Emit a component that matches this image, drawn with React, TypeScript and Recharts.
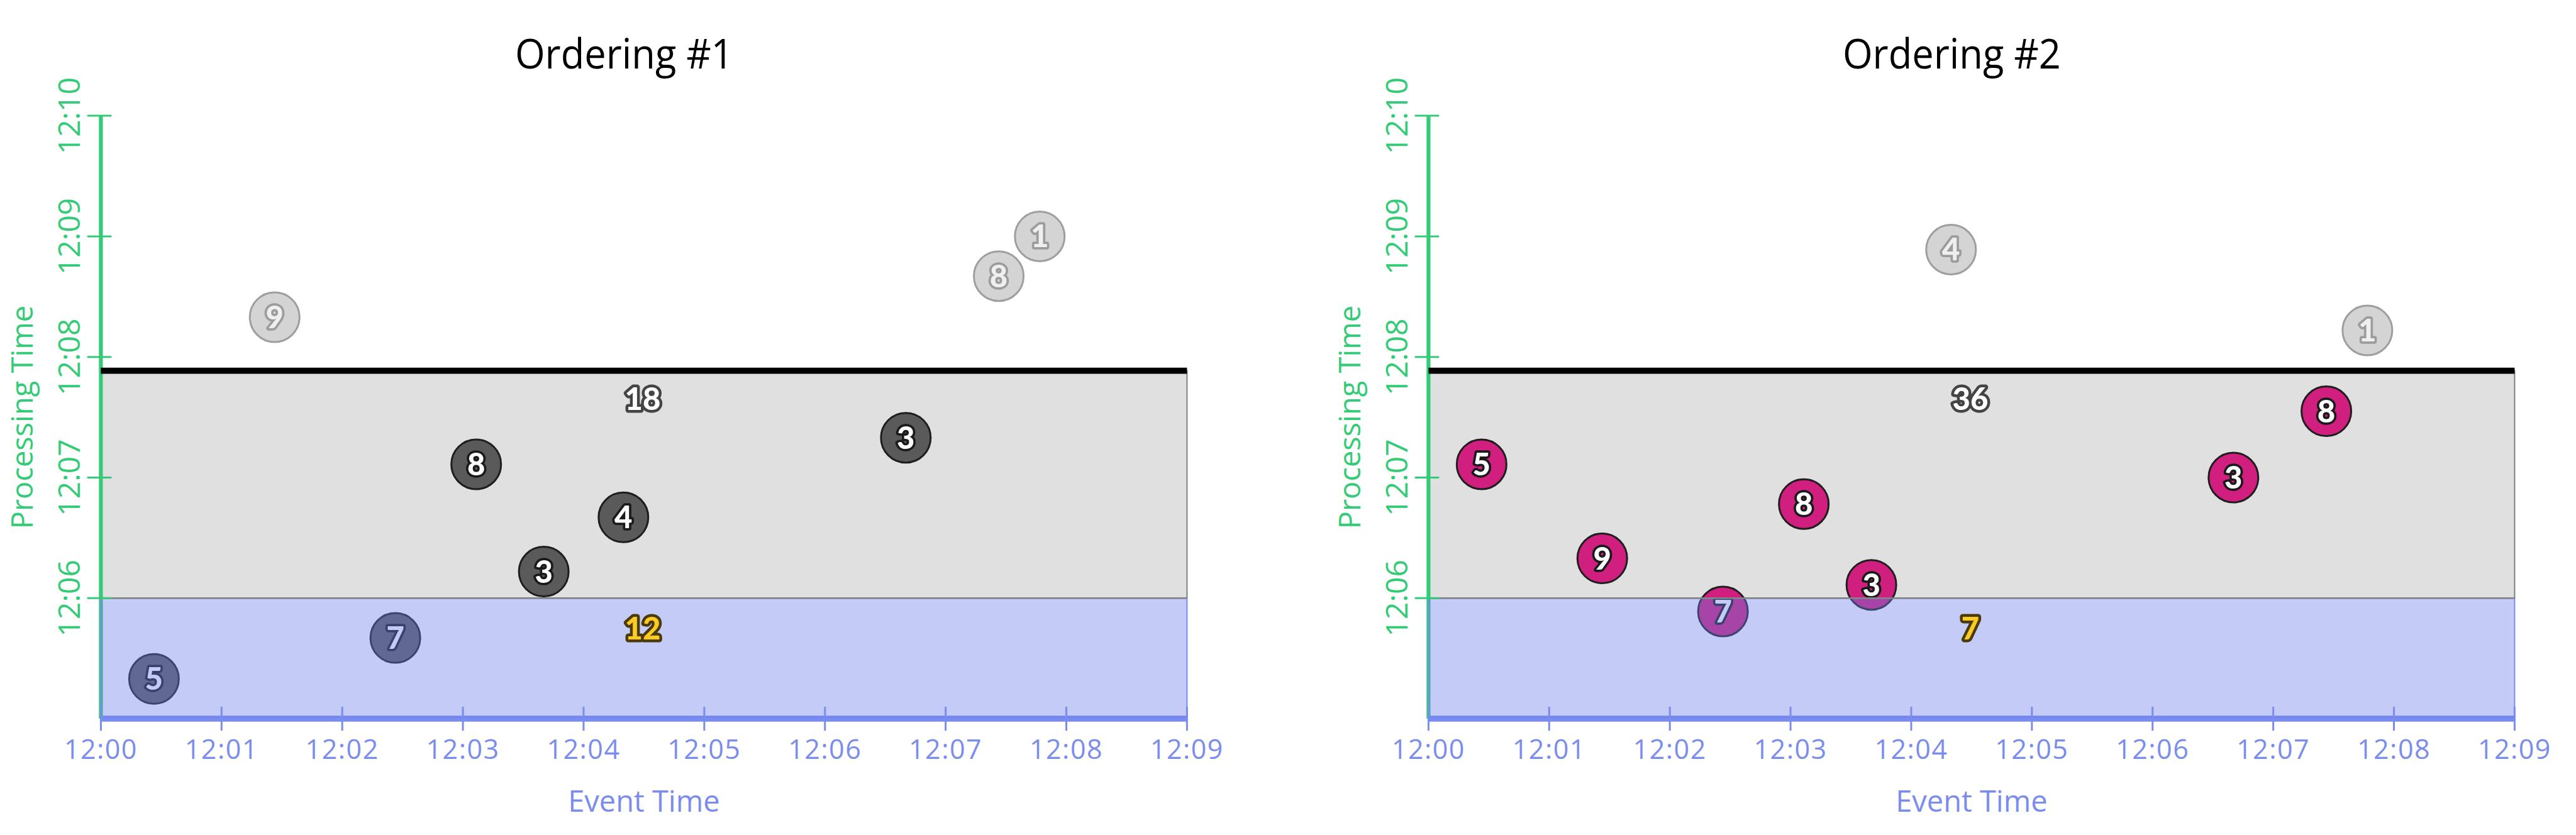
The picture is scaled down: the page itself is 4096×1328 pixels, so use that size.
import { ReferenceArea, ReferenceLine, Scatter, ScatterChart, XAxis, YAxis } from "recharts";

// event time / processing time in minutes after 12:00
const eventTimes = [0.44, 1.44, 2.44, 3.11, 3.67, 4.33, 6.67, 7.44, 7.78];
const eventValues = [5, 9, 7, 8, 3, 4, 3, 8, 1];
const processingOrder1 = [5.33, 8.33, 5.67, 7.11, 6.22, 6.67, 7.33, 8.67, 9.0];
const processingOrder2 = [7.11, 6.33, 5.89, 6.78, 6.11, 8.89, 7.0, 7.55, 8.22];

const resultEventTimes = [4.49, 4.49];
const resultProcessing = [7.65, 5.75];
const resultsOrder1 = ["18", "12"];
const resultsOrder2 = ["36", "7"];

const xTicks = [0, 1, 2, 3, 4, 5, 6, 7, 8, 9];
const yTicks = [6, 7, 8, 9, 10];
const watermark = 7.886;
const earlyBoundary = 6;

const GREEN = "#34cb77";
const BLUE = "#7b8cef";
const FONT = "'Open Sans', 'Noto Sans', sans-serif";

const fmt = (v: number) => `12:${String(v).padStart(2, "0")}`;

const coinStyles: Record<string, { fill: string; stroke: string; text: string; outline: string }> = {
  pending: { fill: "#d4d4d4", stroke: "#9e9e9e", text: "#efefef", outline: "#9c9c9c" },
  dark: { fill: "#5a5a5a", stroke: "#1e1e1e", text: "#ffffff", outline: "#1a1a1a" },
  magenta: { fill: "#d01f7e", stroke: "#1e1e1e", text: "#ffffff", outline: "#1a1a1a" },
};

function Coin(props: any) {
  const { cx, cy, payload } = props;
  const s = coinStyles[payload.kind];
  return (
    <g>
      <circle cx={cx} cy={cy} r={39.5} fill={s.fill} stroke={s.stroke} strokeWidth={3} />
      <text
        x={cx}
        y={cy + 17.5}
        textAnchor="middle"
        fontFamily="Lato, sans-serif"
        fontWeight={900}
        fontSize={49}
        fill={s.text}
        stroke={s.outline}
        strokeWidth={7.5}
        strokeLinejoin="round"
        paintOrder="stroke"
      >
        {payload.value}
      </text>
    </g>
  );
}

function ResultLabel(props: any) {
  const { cx, cy, payload } = props;
  const early = payload.processing < earlyBoundary;
  return (
    <text
      x={cx}
      y={cy + 17.5}
      textAnchor="middle"
      fontFamily="Lato, sans-serif"
      fontWeight={900}
      fontSize={49}
      fill={early ? "#fccb22" : "#ffffff"}
      stroke={early ? "#4b3b08" : "#444444"}
      strokeWidth={9}
      strokeLinejoin="round"
      paintOrder="stroke"
    >
      {payload.text}
    </text>
  );
}

function XTick(props: any) {
  const { x, y, payload } = props;
  return (
    <g>
      <line x1={x} x2={x} y1={y - 19} y2={y + 19} stroke={BLUE} strokeWidth={3} />
      <text x={x} y={y + 63.5} textAnchor="middle" fontFamily={FONT} fontSize={43} letterSpacing={1.5} fill={BLUE}>
        {fmt(payload.value)}
      </text>
    </g>
  );
}

function YTick(props: any) {
  const { x, y, payload } = props;
  const tx = x - 33;
  return (
    <g>
      <line x1={x - 21.7} x2={x + 16.9} y1={y} y2={y} stroke={GREEN} strokeWidth={3} />
      <text x={tx} y={y} transform={`rotate(-90, ${tx}, ${y})`} textAnchor="middle" fontFamily={FONT} fontSize={48} fill={GREEN}>
        {fmt(payload.value)}
      </text>
    </g>
  );
}

const PLOT_LEFT = 160.4;
const PLOT_WIDTH = 1727;
const HEIGHT = 1328;

function Panel({ title, width, processing, doneKind, results }: {
  title: string;
  width: number;
  processing: number[];
  doneKind: string;
  results: string[];
}) {
  const coins = eventTimes.map((event, i) => ({
    event,
    processing: processing[i],
    value: eventValues[i],
    kind: processing[i] > watermark ? "pending" : doneKind,
  }));
  const labels = results.map((text, i) => ({
    event: resultEventTimes[i],
    processing: resultProcessing[i],
    text,
  }));

  return (
    <div style={{ position: "relative", width, height: HEIGHT }}>
      <ScatterChart
        width={width}
        height={HEIGHT}
        margin={{ top: 184.1, right: width - PLOT_LEFT - PLOT_WIDTH, bottom: 64.9, left: 60.4 }}
      >
        <XAxis
          type="number"
          dataKey="event"
          domain={[0, 9]}
          ticks={xTicks}
          interval={0}
          allowDataOverflow
          height={120}
          tickSize={0}
          tickMargin={0}
          tickLine={false}
          tick={(p: any) => <XTick {...p} />}
          axisLine={{ stroke: BLUE, strokeWidth: 9.5 }}
          label={{
            value: "Event Time",
            content: ({ viewBox }: any) => (
              <text x={viewBox.x + viewBox.width / 2} y={viewBox.y + 147.8} textAnchor="middle" fontFamily={FONT} fontSize={47} fill={BLUE}>
                Event Time
              </text>
            ),
          }}
        />
        <YAxis
          type="number"
          dataKey="processing"
          domain={[5, 10]}
          ticks={yTicks}
          interval={0}
          allowDataOverflow
          width={100}
          tickSize={0}
          tickMargin={0}
          tickLine={false}
          tick={(p: any) => <YTick {...p} />}
          axisLine={{ stroke: GREEN, strokeWidth: 6.2 }}
          label={{
            value: "Processing Time",
            content: ({ viewBox }: any) => {
              const lx = viewBox.x + viewBox.width - 108;
              const ly = viewBox.y + viewBox.height / 2;
              return (
                <text x={lx} y={ly} transform={`rotate(-90, ${lx}, ${ly})`} textAnchor="middle" fontFamily={FONT} fontSize={47} fill={GREEN}>
                  Processing Time
                </text>
              );
            },
          }}
        />
        <ReferenceArea x1={0} x2={9} y1={earlyBoundary} y2={watermark} fill="#e0e0e0" fillOpacity={1} stroke="#808080" strokeWidth={2} />
        <Scatter data={coins} shape={(p: any) => <Coin {...p} />} isAnimationActive={false} zIndex={600} />
        <ReferenceArea x1={0} x2={9} y1={5} y2={earlyBoundary} fill="#6a7ce8" fillOpacity={0.4} stroke={BLUE} strokeWidth={2} zIndex={650} />
        <ReferenceLine y={earlyBoundary} stroke="#7f8583" strokeWidth={2.5} zIndex={660} />
        <ReferenceLine y={watermark} stroke="#000000" strokeWidth={9.75} zIndex={660} />
        <Scatter data={labels} shape={(p: any) => <ResultLabel {...p} />} isAnimationActive={false} zIndex={700} />
      </ScatterChart>
      <svg width={width} height={HEIGHT} style={{ position: "absolute", left: 0, top: 0, pointerEvents: "none" }}>
        <text x={PLOT_LEFT + 832} y={108.8} textAnchor="middle" fontFamily={FONT} fontSize={66} textLength={347} lengthAdjust="spacingAndGlyphs" fill="#000">
          {title}
        </text>
      </svg>
    </div>
  );
}

export default function App() {
  return (
    <div style={{ display: "flex", width: 4096, height: HEIGHT, background: "#fff" }}>
      <style>{`body { margin: 0; }`}</style>
      <Panel title="Ordering #1" width={2111} processing={processingOrder1} doneKind="dark" results={resultsOrder1} />
      <Panel title="Ordering #2" width={1985} processing={processingOrder2} doneKind="magenta" results={resultsOrder2} />
    </div>
  );
}
